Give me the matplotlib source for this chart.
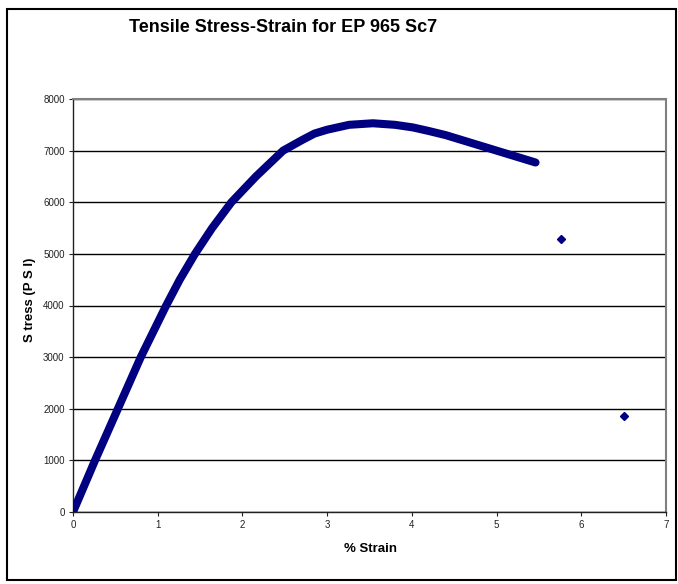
# Tensile stress-strain curve, Excel style scatter

import matplotlib
matplotlib.use("Agg")
from matplotlib import pyplot as plt
from matplotlib.patches import Rectangle

# Data
strain = [0.0, 0.26, 0.53, 0.80, 1.10, 1.26, 1.44, 1.64, 1.87, 2.16, 2.48, 2.71,
          2.85, 3.00, 3.26, 3.54, 3.80, 4.01, 4.20, 4.40, 4.79, 5.18, 5.46]
stress = [0, 1000, 2000, 3000, 4000, 4500, 5000, 5495, 6000, 6500, 7000, 7210,
          7330, 7405, 7500, 7530, 7500, 7450, 7380, 7300, 7105, 6910, 6770]
break_strain = [5.76, 6.50]
break_stress = [5280, 1860]

yticks = list(range(0, 8001, 1000))
xticks = list(range(0, 8))

navy = "#000080"
plt.rcParams['font.family'] = ['Liberation Sans', 'DejaVu Sans']

fig = plt.figure(figsize=(6.78, 5.84), dpi=100)
ax = fig.add_axes([73/678, 1 - 512/584, (666 - 73)/678, (512 - 99)/584])

ax.plot(strain, stress, color=navy, lw=5.8, solid_capstyle='round',
        solid_joinstyle='round', zorder=3)
ax.plot(break_strain, break_stress, ls='none', marker='D', ms=4, color=navy, zorder=3)

ax.set_xlim(0, 7)
ax.set_ylim(0, 8000)
ax.set_xticks(xticks)
ax.set_yticks(yticks)
ax.tick_params(direction='out', length=3, width=0.8, labelsize=7, pad=3, colors='#222222')
ax.yaxis.grid(True, color='black', lw=1)
ax.set_axisbelow(True)

for s in ['top', 'right']:
    ax.spines[s].set_color('#808080')
    ax.spines[s].set_linewidth(1.5)
for s in ['left', 'bottom']:
    ax.spines[s].set_color('#222222')
    ax.spines[s].set_linewidth(1)

fig.text(283/678, 1 - 28/584, "Tensile Stress-Strain for EP 965 Sc7",
         ha='center', va='center', fontsize=13, fontweight='bold')
fig.text(370/678, 1 - 549/584, "% Strain", ha='center', va='center',
         fontsize=9.5, fontweight='bold')
fig.text(30/678, 1 - 300/584, "S tress (P S I)", ha='center', va='center',
         rotation=90, fontsize=9.5, fontweight='bold')

fig.patches.append(Rectangle((7/678, 4/584), 669/678, 571/584, transform=fig.transFigure,
                             fill=False, edgecolor='black', lw=1.5))

fig.savefig("out.png", dpi=100)
